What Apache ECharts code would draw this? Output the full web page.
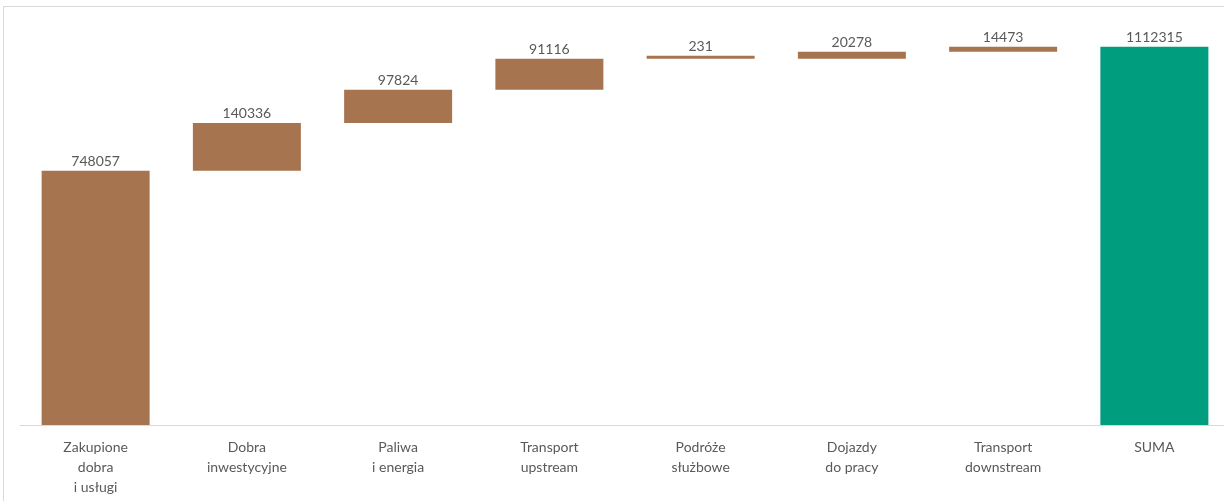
<!DOCTYPE html>
<html>
<head>
<meta charset="utf-8">
<script src="https://cdn.jsdelivr.net/npm/echarts@6/dist/echarts.min.js"></script>
<style>
  html, body { margin: 0; padding: 0; background: #fff; overflow: hidden; }
  #frame { position: absolute; left: 3px; top: 6px; width: 1230px; height: 500px; border: 1px solid #d9d9d9; box-sizing: border-box; }
  #chart { position: absolute; left: 0; top: 0; width: 1232px; height: 501px; }
</style>
</head>
<body>
<div id="frame"></div>
<div id="chart"></div>
<script>
// kategorie i wartosci (emisje, zakres 3)
var categories = ["Zakupione\ndobra\ni usługi", "Dobra\ninwestycyjne", "Paliwa\ni energia", "Transport\nupstream",
                  "Podróże\nsłużbowe", "Dojazdy\ndo pracy", "Transport\ndownstream", "SUMA"];
var values = [748057, 140336, 97824, 91116, 231, 20278, 14473];
var total = 1112315;

// podstawa (niewidoczna) dla wykresu kaskadowego
var baseData = [], stepData = [];
var acc = 0;
for (var i = 0; i < values.length; i++) {
	baseData.push(acc);
	stepData.push(values[i]);
	acc += values[i];
}
baseData.push(0);
stepData.push({ value: total, itemStyle: { color: "#009E7E" } });

var chart = echarts.init(document.getElementById("chart"));
chart.setOption({
	animation: false,
	textStyle: { fontFamily: "Lato" },
	grid: { left: 20, right: 2, top: 17, bottom: 76 },
	xAxis: {
		type: "category",
		data: categories,
		axisLine: { lineStyle: { color: "#d9d9d9", width: 1 } },
		axisTick: { show: false },
		axisLabel: { color: "#595959", fontSize: 14, lineHeight: 20, margin: 12, interval: 0 }
	},
	yAxis: {
		type: "value",
		min: 0,
		max: 1200000,
		show: false
	},
	series: [
		{
			type: "bar",
			stack: "w",
			data: baseData,
			barWidth: 108,
			itemStyle: { color: "transparent" },
			silent: true
		},
		{
			type: "bar",
			stack: "w",
			data: stepData,
			barWidth: 108,
			barMinHeight: 3,
			itemStyle: { color: "#A6744F" },
			label: { show: true, position: "top", distance: 2, color: "#595959", fontSize: 14 }
		}
	]
});
</script>
</body>
</html>
